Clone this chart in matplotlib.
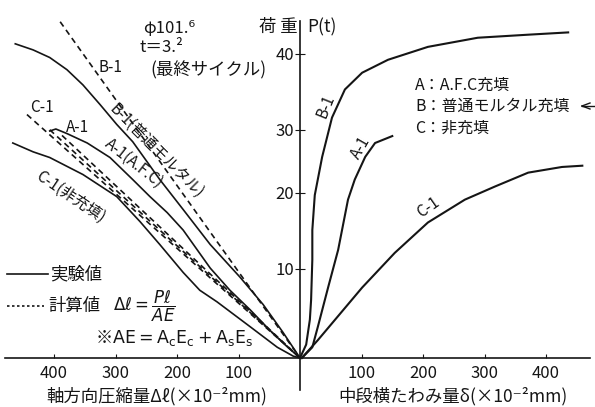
import numpy as np
import matplotlib.pyplot as plt
from matplotlib.lines import Line2D

plt.rcParams['font.family'] = ['Noto Sans CJK JP', 'DejaVu Sans']
plt.rcParams['mathtext.fontset'] = 'dejavusans'

# 左側: 軸方向圧縮量 (x10^-2 mm) - 荷重 P (t), 実験値
b1_short = [463, 434, 407, 379, 353, 325, 298, 272, 228, 190, 146, 98, 60, 28, 0]
b1_load_l = [41.3, 40.5, 39.5, 37.9, 35.9, 33.3, 30.7, 28.1, 22.1, 17.8, 13.2, 9.1, 6.0, 2.9, 0]
a1_short = [407, 397, 379, 346, 309, 272, 244, 216, 190, 146, 114, 81, 49, 20, 0]
a1_load_l = [29.8, 30.1, 29.4, 27.9, 25.6, 22.1, 19.5, 17.4, 15.1, 10.1, 7.6, 5.4, 3.1, 1.2, 0]
c1_short = [467, 434, 407, 353, 298, 260, 228, 190, 163, 135, 81, 37, 11, 0]
c1_load_l = [27.9, 26.5, 25.6, 22.9, 19.5, 16.2, 13.2, 9.6, 7.6, 6.3, 3.5, 1.2, 0.2, 0]

# 計算値 Δℓ = Pℓ/AE
b1_calc_short = [390, 0]
b1_calc_load = [44.2, 0]
c1_calc_short = [444, 0]
c1_calc_load = [32.0, 0]
a1_calc_short = [407, 0]
a1_calc_load = [30.0, 0]
a1_calc2_short = [387, 0]
a1_calc2_load = [29.1, 0]

# 右側: 中段横たわみ量 δ (x10^-2 mm) - 荷重 P (t)
b1_defl = [0, 10, 16, 18, 20, 20, 24, 36, 52, 73, 101, 143, 208, 289, 371, 436]
b1_load_r = [0, 1.5, 4.3, 6.5, 11.2, 15.1, 19.7, 25.7, 31.6, 35.3, 37.5, 39.2, 40.9, 42.1, 42.5, 42.8]
a1_defl = [3, 20, 29, 46, 62, 78, 89, 106, 122, 150]
a1_load_r = [0, 1.2, 3.5, 8.0, 12.5, 19.1, 22.1, 25.7, 27.9, 29.0]
c1_defl = [3, 29, 101, 154, 208, 268, 317, 371, 426, 459]
c1_load_r = [0, 2.0, 7.9, 12.1, 16.1, 19.1, 21.0, 23.2, 24.1, 24.3]

x_ticks = [-400, -300, -200, -100, 100, 200, 300, 400]
y_ticks = [10, 20, 30, 40]

# the printed load axis is not evenly spaced, follow its tick marks
load_marks = [-10, 0, 10, 20, 30, 40, 60]
mark_height = [-89, 0, 89, 165, 228, 304, 456]


def fwd(p):
    return np.interp(p, load_marks, mark_height)


def inv(h):
    return np.interp(h, mark_height, load_marks)


W, H = 595, 407


def pos(x, y):
    return x / W, 1 - y / H


fig = plt.figure(figsize=(5.95, 4.07), dpi=100)
ax = fig.add_axes([5 / W, 17 / H, 585 / W, 369 / H])
ax.set_yscale('function', functions=(fwd, inv))

ink = '#151515'
lw = 1.2
dash = (0, (3.5, 2.5))

ax.plot([-v for v in b1_short], b1_load_l, color=ink, lw=lw)
ax.plot([-v for v in a1_short], a1_load_l, color=ink, lw=lw)
ax.plot([-v for v in c1_short], c1_load_l, color=ink, lw=lw)
ax.plot([-v for v in b1_calc_short], b1_calc_load, color=ink, lw=lw, ls=dash)
ax.plot([-v for v in c1_calc_short], c1_calc_load, color=ink, lw=lw, ls=dash)
ax.plot([-v for v in a1_calc_short], a1_calc_load, color=ink, lw=lw, ls=dash)
ax.plot([-v for v in a1_calc2_short], a1_calc2_load, color=ink, lw=lw, ls=dash)

ax.plot(b1_defl, b1_load_r, color=ink, lw=1.5)
ax.plot(a1_defl, a1_load_r, color=ink, lw=1.5)
ax.plot(c1_defl, c1_load_r, color=ink, lw=1.5)

ax.set_xlim(-479.7, 471.5)
ax.set_ylim(-3.6, 44.3)

ax.spines['left'].set_position(('data', 0))
ax.spines['bottom'].set_position(('data', 0))
ax.spines['top'].set_visible(False)
ax.spines['right'].set_visible(False)
ax.spines['left'].set_linewidth(1.2)
ax.spines['bottom'].set_linewidth(1.2)
ax.spines['left'].set_color(ink)
ax.spines['bottom'].set_color(ink)

ax.set_xticks(x_ticks)
ax.set_xticklabels([str(abs(t)) for t in x_ticks])
ax.set_yticks(y_ticks)
ax.set_yticklabels([str(t) for t in y_ticks])
ax.tick_params(axis='x', direction='in', length=3, labelsize=12, pad=5, colors=ink)
ax.tick_params(axis='y', direction='inout', length=7, labelsize=12, pad=1, colors=ink)
ax.patch.set_alpha(0)

# axis titles
fig.text(*pos(157, 396), '軸方向圧縮量Δℓ(×10⁻²mm)', ha='center', va='center', fontsize=12.5, color=ink)
fig.text(*pos(453, 396), '中段横たわみ量δ(×10⁻²mm)', ha='center', va='center', fontsize=12.5, color=ink)
fig.text(*pos(278, 27), '荷 重', ha='center', va='center', fontsize=12.5, color=ink)
fig.text(*pos(307, 27), 'P(t)', ha='left', va='center', fontsize=12.5, color=ink)

# specimen notes
fig.text(*pos(143, 28), 'φ101.⁶', ha='left', va='center', fontsize=12, color=ink)
fig.text(*pos(140, 48), 't＝3.²', ha='left', va='center', fontsize=12, color=ink)
fig.text(*pos(150, 70), '(最終サイクル)', ha='left', va='center', fontsize=12.5, color=ink)

# curve labels
fig.text(*pos(110, 68), 'B-1', ha='center', va='center', fontsize=11, color=ink)
fig.text(*pos(42, 108), 'C-1', ha='center', va='center', fontsize=11, color=ink)
fig.text(*pos(78, 128), 'A-1', ha='center', va='center', fontsize=11, color=ink)
fig.text(*pos(156, 151), 'B-1(普通モルタル)', ha='center', va='center', fontsize=11,
         rotation=-45, rotation_mode='anchor', color=ink)
fig.text(*pos(134, 163), 'A-1(A.F.C)', ha='center', va='center', fontsize=11,
         rotation=-38, rotation_mode='anchor', color=ink)
fig.text(*pos(70, 197), 'C-1(非充填)', ha='center', va='center', fontsize=11,
         rotation=-34, rotation_mode='anchor', color=ink)
fig.text(*pos(326, 106), 'B-1', ha='center', va='center', fontsize=11, rotation=68,
         rotation_mode='anchor', color=ink)
fig.text(*pos(361, 148), 'A-1', ha='center', va='center', fontsize=11, rotation=60,
         rotation_mode='anchor', color=ink)
fig.text(*pos(428, 208), 'C-1', ha='center', va='center', fontsize=11, rotation=35,
         rotation_mode='anchor', color=ink)

# key on the right
fig.text(*pos(415, 85), 'A：A.F.C充填', ha='left', va='center', fontsize=11.5, color=ink)
fig.text(*pos(415, 106), 'B：普通モルタル充填', ha='left', va='center', fontsize=11.5, color=ink)
fig.text(*pos(415, 128), 'C：非充填', ha='left', va='center', fontsize=11.5, color=ink)
fig.add_artist(Line2D([582 / W, 1.0], [1 - 106 / H, 1 - 106 / H], color=ink, lw=1))
fig.add_artist(Line2D([582 / W, 590 / W], [1 - 106 / H, 1 - 103 / H], color=ink, lw=1))
fig.add_artist(Line2D([582 / W, 590 / W], [1 - 106 / H, 1 - 109 / H], color=ink, lw=1))

# key on the left
fig.add_artist(Line2D([7 / W, 48 / W], [1 - 274 / H, 1 - 274 / H], color=ink, lw=1.2))
fig.text(*pos(50, 274), '実験値', ha='left', va='center', fontsize=12.5, color=ink)
fig.add_artist(Line2D([7 / W, 44 / W], [1 - 306 / H, 1 - 306 / H], color=ink, lw=1.2,
                      ls=(0, (1.5, 1.5))))
fig.text(*pos(48, 306), '計算値', ha='left', va='center', fontsize=12.5, color=ink)
fig.text(*pos(113, 306), r'$\Delta\ell=\dfrac{P\ell}{AE}$', ha='left', va='center',
         fontsize=12, color=ink)
fig.text(*pos(95, 338), r'※$\mathrm{AE=A_cE_c+A_sE_s}$', ha='left', va='center',
         fontsize=12.5, color=ink)

fig.savefig('out.png', dpi=100, facecolor='white')
